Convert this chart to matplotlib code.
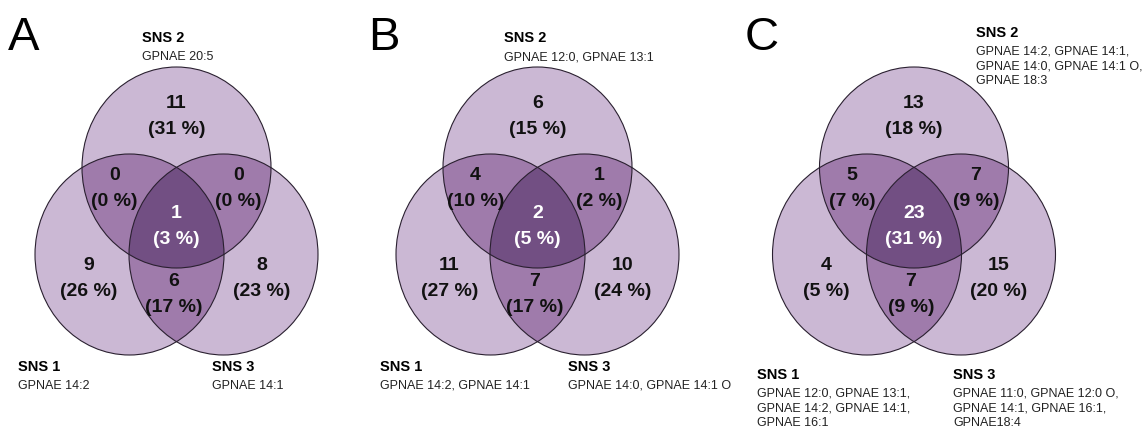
import matplotlib.pyplot as plt
from matplotlib.patches import Ellipse, Polygon
import numpy as np

# --- DATA ---
# region order: only SNS2, SNS1&2, SNS2&3, all three, only SNS1, SNS1&3, only SNS3
panels = ["A", "B", "C"]
counts_a = [11, 0, 0, 1, 9, 6, 8]
pct_a = [31, 0, 0, 3, 26, 17, 23]
counts_b = [6, 4, 1, 2, 11, 7, 10]
pct_b = [15, 10, 2, 5, 27, 17, 24]
counts_c = [13, 5, 7, 23, 4, 7, 15]
pct_c = [18, 7, 9, 31, 5, 9, 20]

sns1_lipids = ["GPNAE 14:2",
               "GPNAE 14:2, GPNAE 14:1",
               "GPNAE 12:0, GPNAE 13:1,\nGPNAE 14:2, GPNAE 14:1,\nGPNAE 16:1"]
sns2_lipids = ["GPNAE 20:5",
               "GPNAE 12:0, GPNAE 13:1",
               "GPNAE 14:2, GPNAE 14:1,\nGPNAE 14:0, GPNAE 14:1 O,\nGPNAE 18:3"]
sns3_lipids = ["GPNAE 14:1",
               "GPNAE 14:0, GPNAE 14:1 O",
               "GPNAE 11:0, GPNAE 12:0 O,\nGPNAE 14:1, GPNAE 16:1,\nGPNAE18:4"]

all_counts = [counts_a, counts_b, counts_c]
all_pct = [pct_a, pct_b, pct_c]

# --- STYLE / LAYOUT ---
col1 = "#cbb8d4"
col2 = "#9f7bab"
col3 = "#724f83"
edge = "#2a2030"
panel_x = [176.5, 537.5, 914]
rx, ry = 94.5, 100.5
# circle centre offsets (SNS2 top, SNS1 left, SNS3 right)
circ_off = [(0, 167.5), (-47, 254.5), (47, 254.5)]
# text offsets (dx, y of count line) for the seven regions
lab_off = [(0, 103), (-62, 175), (62, 175), (0, 213), (-88, 265), (-3, 282), (85, 265)]

plt.rcParams['font.family'] = ['Liberation Sans', 'DejaVu Sans']

fig = plt.figure(figsize=(11.43, 4.33), dpi=100)
ax = fig.add_axes([0, 0, 1, 1])
ax.set_xlim(0, 1143)
ax.set_ylim(433, 0)
ax.axis("off")


def inside(px, py, c):
    return ((px - c[0]) / rx) ** 2 + ((py - c[1]) / ry) ** 2 <= 1.0 + 1e-9


def intersection_poly(cs):
    # sample every boundary, keep points inside all ellipses, sort by angle (convex)
    t = np.linspace(0, 2 * np.pi, 1500, endpoint=False)
    pts = []
    for c in cs:
        bx = c[0] + rx * np.cos(t)
        by = c[1] + ry * np.sin(t)
        ok = np.ones_like(bx, dtype=bool)
        for o in cs:
            if o is not c:
                ok &= inside(bx, by, o)
        pts.append(np.column_stack([bx[ok], by[ok]]))
    pts = np.vstack(pts)
    m = pts.mean(axis=0)
    ang = np.arctan2(pts[:, 1] - m[1], pts[:, 0] - m[0])
    return pts[np.argsort(ang)]


for k, cx in enumerate(panel_x):
    cents = [(cx + dx, cy) for dx, cy in circ_off]

    for c in cents:
        ax.add_patch(Ellipse(c, 2 * rx, 2 * ry, facecolor=col1, edgecolor="none", zorder=1))
    for i, j in [(0, 1), (0, 2), (1, 2)]:
        ax.add_patch(Polygon(intersection_poly([cents[i], cents[j]]), closed=True,
                             facecolor=col2, edgecolor="none", zorder=2))
    ax.add_patch(Polygon(intersection_poly(cents), closed=True,
                         facecolor=col3, edgecolor="none", zorder=3))
    for c in cents:
        ax.add_patch(Ellipse(c, 2 * rx, 2 * ry, facecolor="none", edgecolor=edge,
                             lw=0.8, zorder=4))

    for r, (dx, y) in enumerate(lab_off):
        tc = "white" if r == 3 else "#111111"
        ax.text(cx + dx, y, str(all_counts[k][r]), ha="center", va="center",
                fontsize=14, fontweight="bold", color=tc, zorder=5)
        ax.text(cx + dx, y + 26, "(%d %%)" % all_pct[k][r], ha="center", va="center",
                fontsize=14, fontweight="bold", color=tc, zorder=5)

    # panel letter
    ax.text(cx - 169, 38, panels[k], ha="left", va="center", fontsize=34, color="black")

    # set labels
    if k < 2:
        s2x, s2y = cx - 34, 38
        s1x, s3x, sy = cx - 158, cx + (36 if k == 0 else 30), 367
    else:
        s2x, s2y = cx + 62, 33
        s1x, s3x, sy = cx - 157, cx + 39, 375
    small = dict(ha="left", va="top", fontsize=9, linespacing=1.3, color="#222222")
    ax.text(s2x, s2y, "SNS 2", ha="left", va="center", fontsize=10.5, fontweight="bold")
    ax.text(s2x, s2y + 13, sns2_lipids[k], **small)
    ax.text(s1x, sy, "SNS 1", ha="left", va="center", fontsize=10.5, fontweight="bold")
    ax.text(s1x, sy + 13, sns1_lipids[k], **small)
    ax.text(s3x, sy, "SNS 3", ha="left", va="center", fontsize=10.5, fontweight="bold")
    ax.text(s3x, sy + 13, sns3_lipids[k], **small)

fig.savefig("out.png", dpi=100)
